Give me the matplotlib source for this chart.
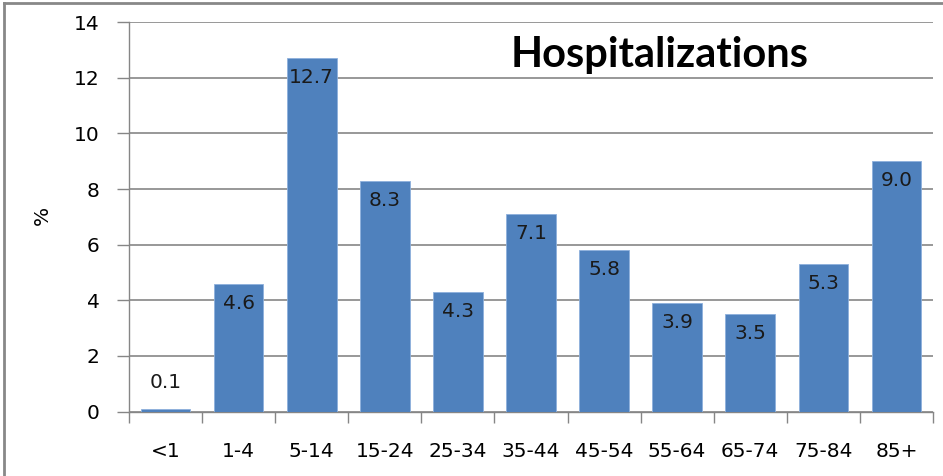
import numpy as np
import matplotlib.pyplot as plt
from matplotlib.lines import Line2D

# data
lage = ['<1', '1-4', '5-14', '15-24', '25-34', '35-44', '45-54', '55-64', '65-74', '75-84', '85+']
lpct = [0.1, 4.6, 12.7, 8.3, 4.3, 7.1, 5.8, 3.9, 3.5, 5.3, 9.0]
ltitle = 'Hospitalizations'

# set font size generally
plt.rcParams['font.size'] = 14.5
plt.rcParams['font.family'] = 'DejaVu Sans'
#-- create figure
fig = plt.figure(dpi=100, figsize=[9.43, 4.76])
ax1 = fig.add_axes([0.1368, 0.1355, 0.8526, 0.8177])

xpos = np.arange(len(lage))
bars = ax1.bar(xpos, lpct, width=0.68, color='#4F81BD', edgecolor='#8DB0DC', linewidth=0.6, zorder=3)

# limits and ticks
ax1.set_xlim(-0.5, len(lage) - 0.5)
ax1.set_ylim(0, 14)
ax1.set_yticks(np.arange(0, 15, step=2))
ax1.set_xticks(xpos)
ax1.set_xticklabels(lage)
ax1.set_xticks(np.arange(-0.5, len(lage), 1), minor=True)
ax1.tick_params(axis='x', which='major', length=0, pad=22)
ax1.tick_params(axis='x', which='minor', length=8, color='#868686', width=1)
ax1.tick_params(axis='y', length=9, color='#868686', width=1, pad=12)
fig.text(42 / 943, 1 - 215 / 476, '%', rotation=90, ha='center', va='center', fontsize=14.5)

# grid and spines
ax1.grid(axis='y', color='#868686', linestyle='-', linewidth=1.2, zorder=0)
ax1.set_axisbelow(True)
for s in ['top', 'right']:
    ax1.spines[s].set_visible(False)
for s in ['left', 'bottom']:
    ax1.spines[s].set_color('#868686')
    ax1.spines[s].set_linewidth(1)

# value labels: inside the top of bar, above when bar too short
for x, v in zip(xpos, lpct):
    if v < 1:
        ax1.annotate('%.1f' % v, (x, v), xytext=(0, 19), textcoords='offset points',
                     ha='center', va='center', fontsize=14.5, color='#1a1a1a')
    else:
        ax1.annotate('%.1f' % v, (x, v), xytext=(0, -14), textcoords='offset points',
                     ha='center', va='center', fontsize=14.5, color='#1a1a1a', zorder=4)

# title inside plot
ax1.text(0.66, 0.916, ltitle, transform=ax1.transAxes, ha='center', va='center',
         fontsize=30, fontweight='bold', family='Lato')

# frame lines at left and top edge
fig.add_artist(Line2D([0.004, 0.004], [0, 0.994], color='#888888', linewidth=2))
fig.add_artist(Line2D([0.004, 1], [0.994, 0.994], color='#888888', linewidth=2))

# save fig
plt.savefig('out.png', format='png')
